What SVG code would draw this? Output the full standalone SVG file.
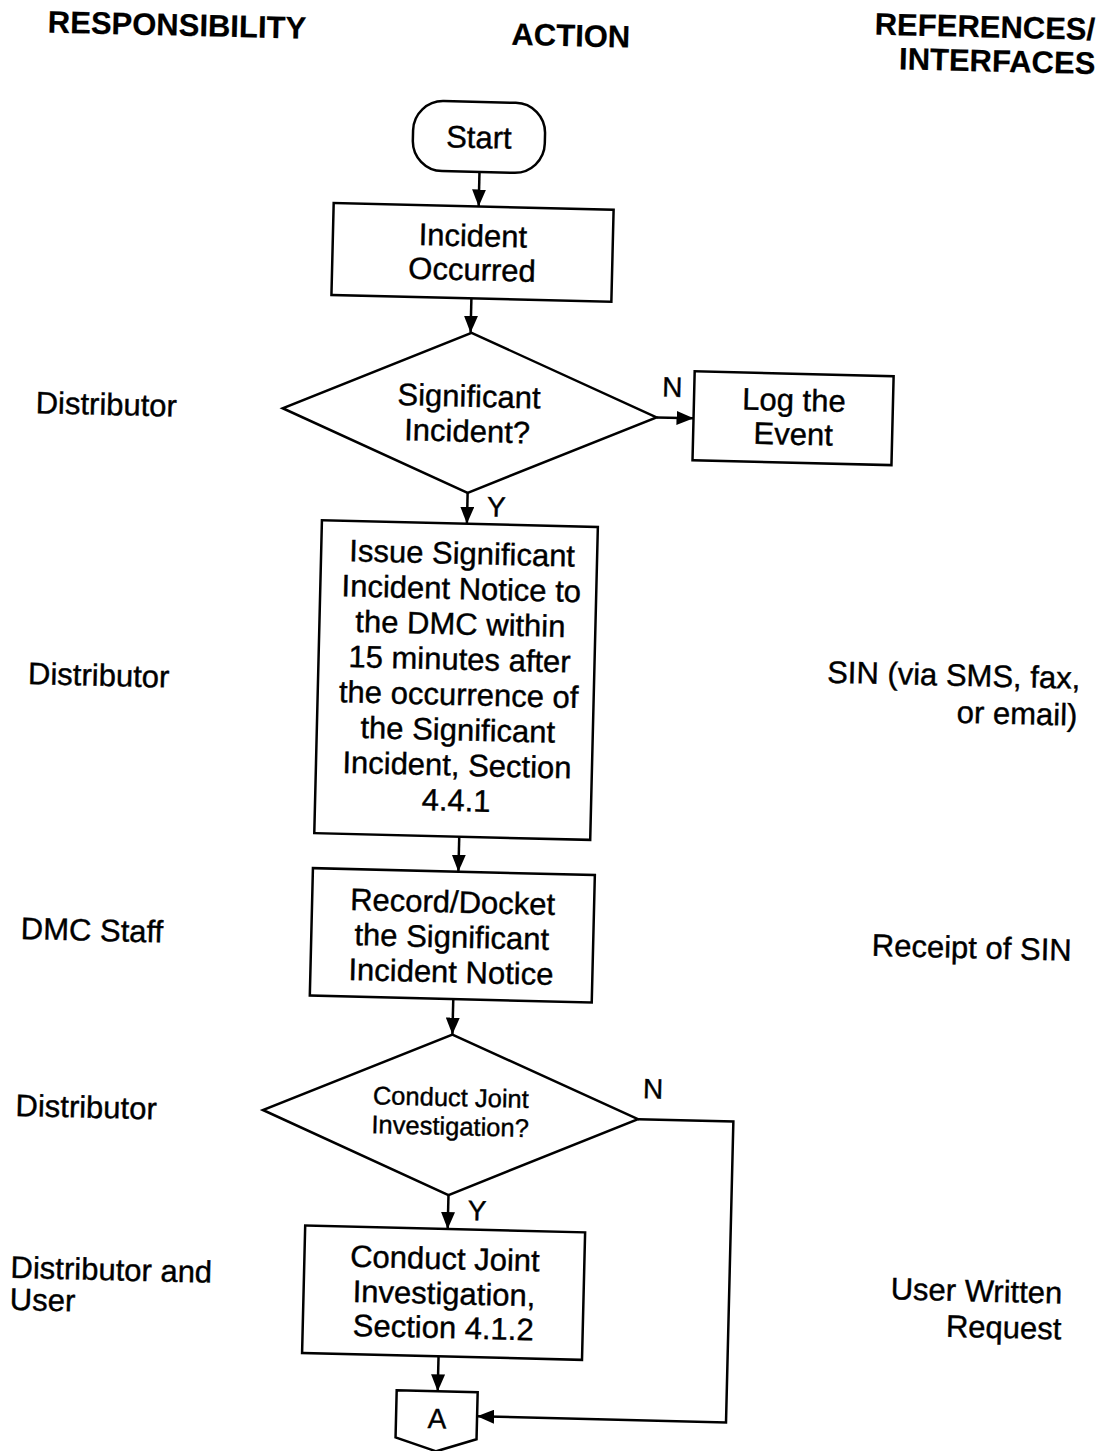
<svg xmlns="http://www.w3.org/2000/svg" width="1110" height="1451" viewBox="0 0 1110 1451">
  <style>
    .box { fill: #fff; stroke: #000; stroke-width: 2.5; }
    .line { fill: none; stroke: #000; stroke-width: 2.5; }
    .t { font-family: "Liberation Sans", Arial, sans-serif; font-size: 31px; fill: #000; stroke: #000; stroke-width: 0.4; }
    .c { text-anchor: middle; }
    .e { text-anchor: end; }
    .h { font-weight: bold; stroke-width: 0.2; }
    .small { font-size: 25.5px; }
    .lbl { font-size: 28px; }
  </style>
  <defs>
    <marker id="arrow" markerUnits="userSpaceOnUse" markerWidth="17" markerHeight="14" refX="17" refY="7" orient="auto">
      <path d="M0,0 L17,7 L0,14 z" fill="#000"/>
    </marker>
  </defs>
  <rect width="1110" height="1451" fill="#fff"/>
  <g transform="rotate(1.4 555 725)">
    <!-- column headings -->
    <g id="headings">
      <text class="t h c" x="160" y="45">RESPONSIBILITY</text>
      <text class="t h c" x="554" y="46">ACTION</text>
      <text class="t h e" x="1078" y="27">REFERENCES/</text>
      <text class="t h e" x="1079" y="61">INTERFACES</text>
    </g>

    <!-- responsibility column -->
    <g id="responsibility">
      <text class="t" x="28" y="426">Distributor</text>
      <text class="t" x="27" y="697">Distributor</text>
      <text class="t" x="26" y="952">DMC Staff</text>
      <text class="t" x="25" y="1129">Distributor</text>
      <text class="t" x="24" y="1291">Distributor and</text>
      <text class="t" x="24" y="1323">User</text>
    </g>

    <!-- references / interfaces column -->
    <g id="references">
      <text class="t e" x="1079" y="676">SIN (via SMS, fax,</text>
      <text class="t e" x="1077" y="713">or email)</text>
      <text class="t e" x="1077" y="948">Receipt of SIN</text>
      <text class="t e" x="1076" y="1291">User Written</text>
      <text class="t e" x="1076" y="1327">Request</text>
    </g>

    <!-- connectors -->
    <g id="connectors">
      <path class="line" d="M466 174 V208.5" marker-end="url(#arrow)"/>
      <path class="line" d="M461 300.5 V335" marker-end="url(#arrow)"/>
      <path class="line" d="M649 415 H686" marker-end="url(#arrow)"/>
      <text class="t lbl c" x="664" y="394">N</text>
      <path class="line" d="M462 495 V526" marker-end="url(#arrow)"/>
      <text class="t lbl c" x="491" y="518">Y</text>
      <path class="line" d="M462 839 V874" marker-end="url(#arrow)"/>
      <path class="line" d="M460 1001.5 V1037" marker-end="url(#arrow)"/>
      <path class="line" d="M460 1197.5 V1231.5" marker-end="url(#arrow)"/>
      <text class="t lbl c" x="489" y="1222">Y</text>
      <path class="line" d="M454 1359 V1394" marker-end="url(#arrow)"/>
      <path class="line" d="M647.6 1117 H743 V1418 H494" marker-end="url(#arrow)"/>
      <text class="t lbl c" x="662" y="1096">N</text>
    </g>

    <g id="start">
      <rect class="box" x="398.6" y="104" width="132" height="70" rx="30" ry="30"/>
      <text class="t c" x="464.6" y="150">Start</text>
    </g>

    <g id="incident-occurred">
      <rect class="box" x="321" y="208.5" width="280" height="92"/>
      <text class="t c" x="461" y="248.5">Incident</text>
      <text class="t c" x="461" y="282.5">Occurred</text>
    </g>

    <g id="significant-decision">
      <polygon class="box" points="462,335 649,415 462,495 275,415"/>
      <text class="t c" x="461" y="409">Significant</text>
      <text class="t c" x="460" y="444">Incident?</text>
    </g>

    <g id="log-event">
      <rect class="box" x="686" y="368" width="199" height="89"/>
      <text class="t c" x="786" y="405">Log the</text>
      <text class="t c" x="786" y="439">Event</text>
    </g>

    <g id="issue-notice">
      <rect class="box" x="317" y="526" width="276" height="313"/>
      <text class="t c" x="458" y="566.3">Issue Significant</text>
      <text class="t c" x="458" y="601.6">Incident Notice to</text>
      <text class="t c" x="458" y="636.9">the DMC within</text>
      <text class="t c" x="458" y="672.2">15 minutes after</text>
      <text class="t c" x="458" y="707.5">the occurrence of</text>
      <text class="t c" x="458" y="742.8">the Significant</text>
      <text class="t c" x="458" y="778.1">Incident, Section</text>
      <text class="t c" x="458" y="813.4">4.4.1</text>
    </g>

    <g id="record-notice">
      <rect class="box" x="316.5" y="874" width="282" height="127.5"/>
      <text class="t c" x="457" y="915">Record/Docket</text>
      <text class="t c" x="457" y="950">the Significant</text>
      <text class="t c" x="457" y="985">Incident Notice</text>
    </g>

    <g id="joint-decision">
      <polygon class="box" points="460,1037 647.6,1117 460,1197.5 272.4,1117"/>
      <text class="t small c" x="460" y="1108.5">Conduct Joint</text>
      <text class="t small c" x="460" y="1137.5">Investigation?</text>
    </g>

    <g id="joint-investigation">
      <rect class="box" x="317.5" y="1231.5" width="280" height="127.5"/>
      <text class="t c" x="458" y="1271.7">Conduct Joint</text>
      <text class="t c" x="458" y="1306.7">Investigation,</text>
      <text class="t c" x="458" y="1340.7">Section 4.1.2</text>
    </g>

    <g id="connector-a">
      <polygon class="box" points="413,1394 494,1394 494,1441 454,1454 413,1441"/>
      <text class="t lbl c" x="454" y="1431">A</text>
    </g>
  </g>
</svg>
